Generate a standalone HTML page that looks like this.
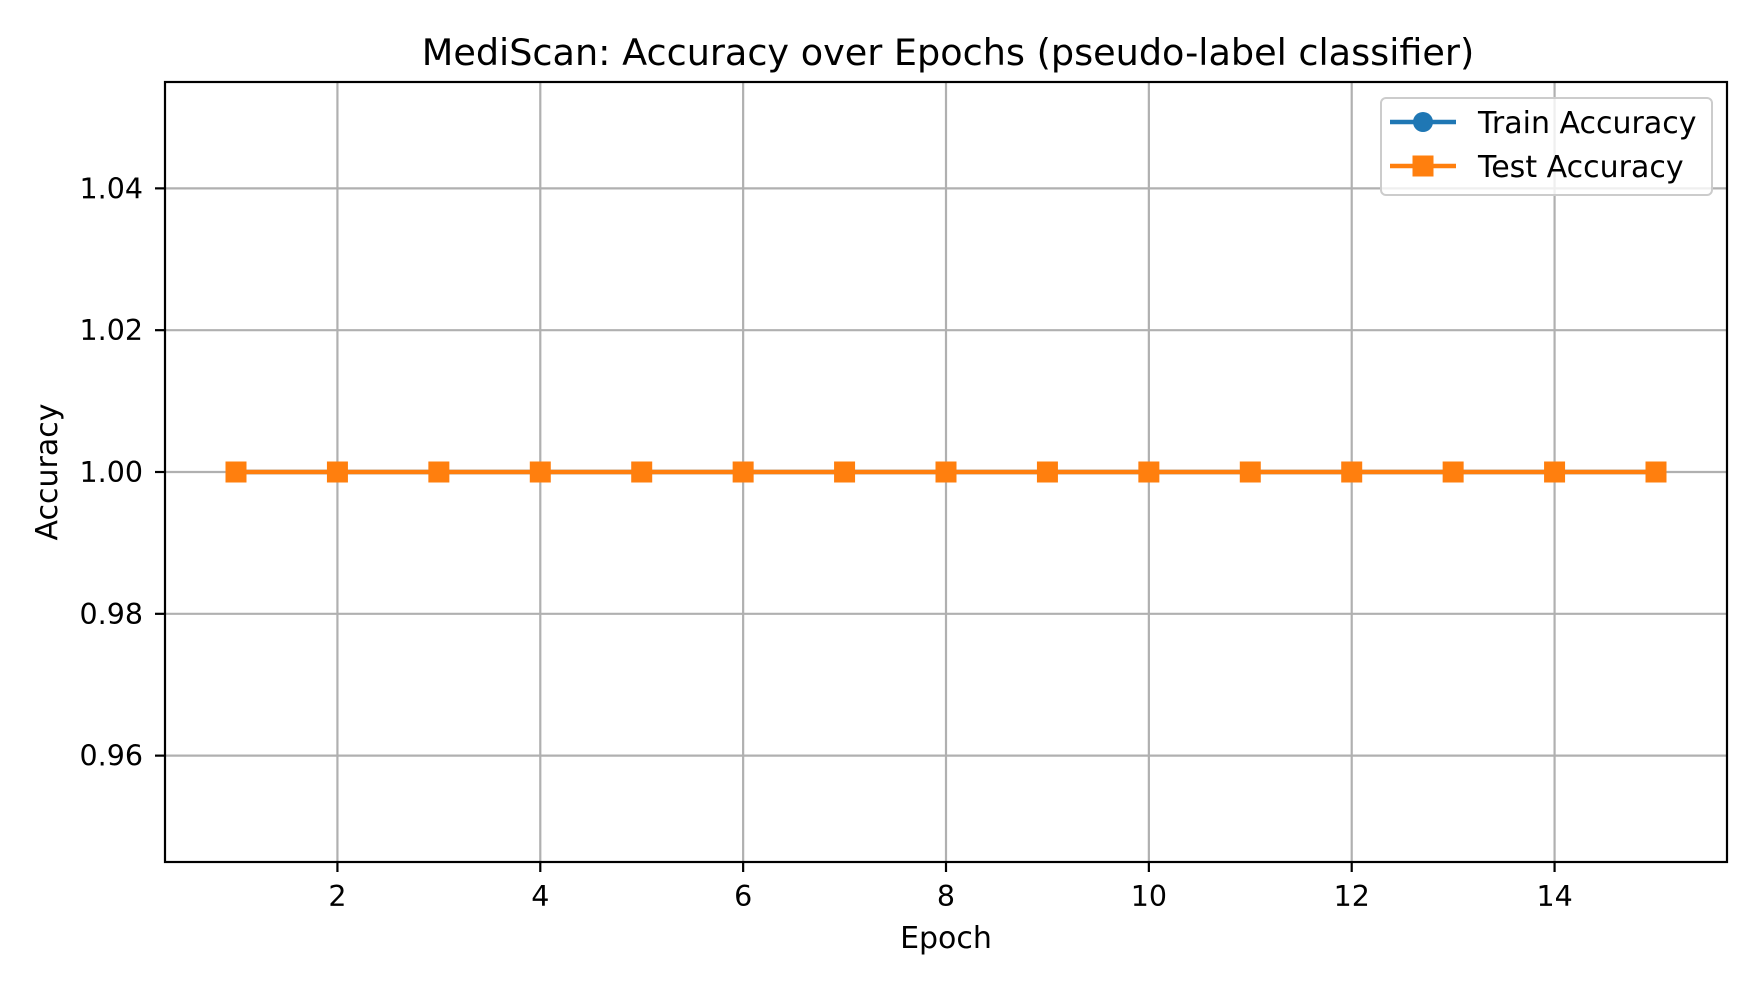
<!DOCTYPE html>
<html><head><meta charset="utf-8"><style>
body{margin:0;background:#fff}
svg text{font-family:"DejaVu Sans","Liberation Sans",sans-serif;fill:#000}
</style></head><body>
<svg id="chart" width="1760" height="990" xmlns="http://www.w3.org/2000/svg">
<rect width="1760" height="990" fill="#fff"/>
<text x="948" y="65" font-size="36.6" text-anchor="middle">MediScan: Accuracy over Epochs (pseudo-label classifier)</text>
<g id="grid"></g>
<g id="series"></g>
<rect x="165" y="82" width="1562" height="780" fill="none" stroke="#000" stroke-width="2.2"/>
<g id="ticks"></g>
<text x="946" y="948" font-size="30" text-anchor="middle">Epoch</text>
<text transform="translate(57,472) rotate(-90)" font-size="30" text-anchor="middle">Accuracy</text>
<g>
<rect x="1381" y="98" width="331" height="97" rx="5" fill="#fff" fill-opacity="0.8" stroke="#ccc" stroke-width="2"/>
<line x1="1390" y1="122" x2="1456" y2="122" stroke="#1f77b4" stroke-width="4.5"/>
<circle cx="1423" cy="122" r="10" fill="#1f77b4"/>
<text x="1478" y="133" font-size="30">Train Accuracy</text>
<line x1="1390" y1="166" x2="1456" y2="166" stroke="#ff7f0e" stroke-width="4.5"/>
<rect x="1412.5" y="155.5" width="21" height="21" fill="#ff7f0e"/>
<text x="1478" y="177" font-size="30">Test Accuracy</text>
</g>
</svg>
<script>
const epochs=[1,2,3,4,5,6,7,8,9,10,11,12,13,14,15];
const trainAcc=[1,1,1,1,1,1,1,1,1,1,1,1,1,1,1];
const testAcc=[1,1,1,1,1,1,1,1,1,1,1,1,1,1,1];
const xTicks=[2,4,6,8,10,12,14];
const yTicks=[0.96,0.98,1.00,1.02,1.04];
const yTickLabels=["0.96","0.98","1.00","1.02","1.04"];
const L=165,R=1727,T=82,B=862,xMin=0.3,xMax=15.7,yMin=0.945,yMax=1.055;
const sx=v=>L+(v-xMin)/(xMax-xMin)*(R-L);
const sy=v=>B-(v-yMin)/(yMax-yMin)*(B-T);
const NS="http://www.w3.org/2000/svg";
function mk(tag,attrs,parent){const e=document.createElementNS(NS,tag);for(const k in attrs)e.setAttribute(k,attrs[k]);document.getElementById(parent).appendChild(e);return e;}
xTicks.forEach(t=>{
 const g=mk('line',{x1:sx(t),x2:sx(t),y1:T,y2:B,stroke:'#b0b0b0','stroke-width':2.2},'grid');
 
 
 const tk=mk('line',{x1:sx(t),x2:sx(t),y1:B,y2:B+10,stroke:'#000','stroke-width':2.2},'ticks');
 
 
 const tx=mk('text',{x:sx(t),y:B+44,'font-size':28.5,'text-anchor':'middle'},'ticks');
 tx.textContent=t;
 
 
});
yTicks.forEach((t,i)=>{
 const g=mk('line',{x1:L,x2:R,y1:sy(t),y2:sy(t),stroke:'#b0b0b0','stroke-width':2.2},'grid');
 
 
 const tk=mk('line',{x1:L-10,x2:L,y1:sy(t),y2:sy(t),stroke:'#000','stroke-width':2.2},'ticks');
 
 
 const tx=mk('text',{x:L-22,y:sy(t)+10,'font-size':28.5,'text-anchor':'end'},'ticks');
 tx.textContent=yTickLabels[i];
 
 
});
function line(vals,color,name){
 const p=mk('polyline',{points:epochs.map((e,i)=>sx(e)+','+sy(vals[i])).join(' '),fill:'none',stroke:color,'stroke-width':4.5},'series');
 
 
}
line(trainAcc,'#1f77b4','train-accuracy-line');
epochs.forEach((e,i)=>{
 const c=mk('circle',{cx:sx(e),cy:sy(trainAcc[i]),r:10,fill:'#1f77b4'},'series');
 
 
});
line(testAcc,'#ff7f0e','test-accuracy-line');
epochs.forEach((e,i)=>{
 const r=mk('rect',{x:sx(e)-10.5,y:sy(testAcc[i])-10.5,width:21,height:21,fill:'#ff7f0e'},'series');
 
 
});
</script>
</body></html>
